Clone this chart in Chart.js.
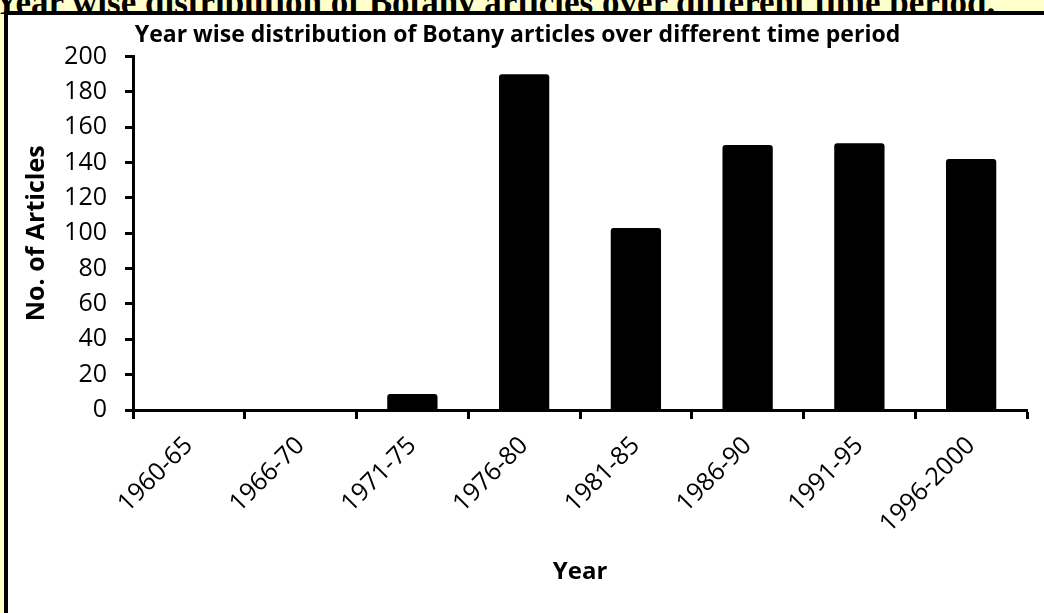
<!DOCTYPE html>
<html>
<head>
<meta charset="utf-8">
<script src="https://cdn.jsdelivr.net/npm/chart.js@4.4.1/dist/chart.umd.min.js"></script>
<style>
    html, body { margin: 0; padding: 0; width: 1044px; height: 613px; overflow: hidden; background: #ffffcc; }
    .caption {
        position: absolute; left: -6px; top: -17px; white-space: nowrap; line-height: 1;
        font: bold 35px "Liberation Serif", serif; color: #000;
    }
    .frame {
        position: absolute; left: 4px; top: 11px; width: 1100px; height: 700px;
        border: 4px solid #000; background: #fff;
    }
    .chartBox { position: absolute; left: 0; top: 0; width: 1044px; height: 598px; }
</style>
</head>
<body>
<div class="caption">Year wise distribution of Botany articles over different time period.</div>
<div class="frame">
    <div class="chartBox"><canvas id="botanyChart"></canvas></div>
</div>
<script>
// Chart data
const periods = ['1960-65', '1966-70', '1971-75', '1976-80', '1981-85', '1986-90', '1991-95', '1996-2000'];
const articleCounts = [0, 0, 9, 190, 103, 150, 151, 142];
const yTicks = [0, 20, 40, 60, 80, 100, 120, 140, 160, 180, 200];

const chartTitle = 'Year wise distribution of Botany articles over different time period';
const xTitle = 'Year';
const yTitle = 'No. of Articles';

const fontFamily = '"Open Sans", sans-serif';

function initChart() {
    const ctx = document.getElementById('botanyChart').getContext('2d');
    return new Chart(ctx, {
        type: 'bar',
        data: {
            labels: periods,
            datasets: [{
                label: yTitle,
                data: articleCounts,
                backgroundColor: '#000',
                borderColor: '#000',
                borderWidth: 0,
                borderRadius: 3,
                barPercentage: 0.45,
                categoryPercentage: 1
            }]
        },
        options: {
            responsive: true,
            maintainAspectRatio: false,
            animation: false,
            layout: { padding: { left: 0, right: 25, top: 0, bottom: 0 } },
            plugins: {
                legend: { display: false },
                tooltip: { enabled: false },
                title: {
                    display: true,
                    text: chartTitle,
                    color: '#000',
                    font: { family: fontFamily, size: 23, weight: 'bold' },
                    padding: { top: 7, bottom: 7 }
                }
            },
            scales: {
                x: {
                    afterFit: (scale) => { scale.height = 203; },
                    border: { display: true, color: '#000', width: 3 },
                    grid: {
                        offset: true,
                        drawOnChartArea: false,
                        drawTicks: true,
                        tickLength: 9,
                        tickWidth: 3,
                        tickColor: '#000'
                    },
                    ticks: {
                        color: '#000',
                        maxRotation: 45,
                        minRotation: 45,
                        padding: 12,
                        font: { family: fontFamily, size: 25 }
                    },
                    title: {
                        display: true,
                        text: xTitle,
                        color: '#000',
                        font: { family: fontFamily, size: 24, weight: 'bold' },
                        padding: { top: 0, bottom: 26 }
                    }
                },
                y: {
                    min: 0,
                    max: 200,
                    afterFit: (scale) => { scale.width = 125; },
                    afterBuildTicks: (scale) => { scale.ticks = yTicks.map(v => ({ value: v })); },
                    border: { display: true, color: '#000', width: 3 },
                    grid: {
                        drawOnChartArea: false,
                        drawTicks: true,
                        tickLength: 8,
                        tickWidth: 3,
                        tickColor: '#000'
                    },
                    ticks: {
                        color: '#000',
                        padding: 18,
                        font: { family: fontFamily, size: 25 }
                    },
                    title: {
                        display: true,
                        text: yTitle,
                        color: '#000',
                        font: { family: fontFamily, size: 25, weight: 'bold' },
                        padding: { top: 14, bottom: 0 }
                    }
                }
            }
        }
    });
}

initChart();
</script>
</body>
</html>
